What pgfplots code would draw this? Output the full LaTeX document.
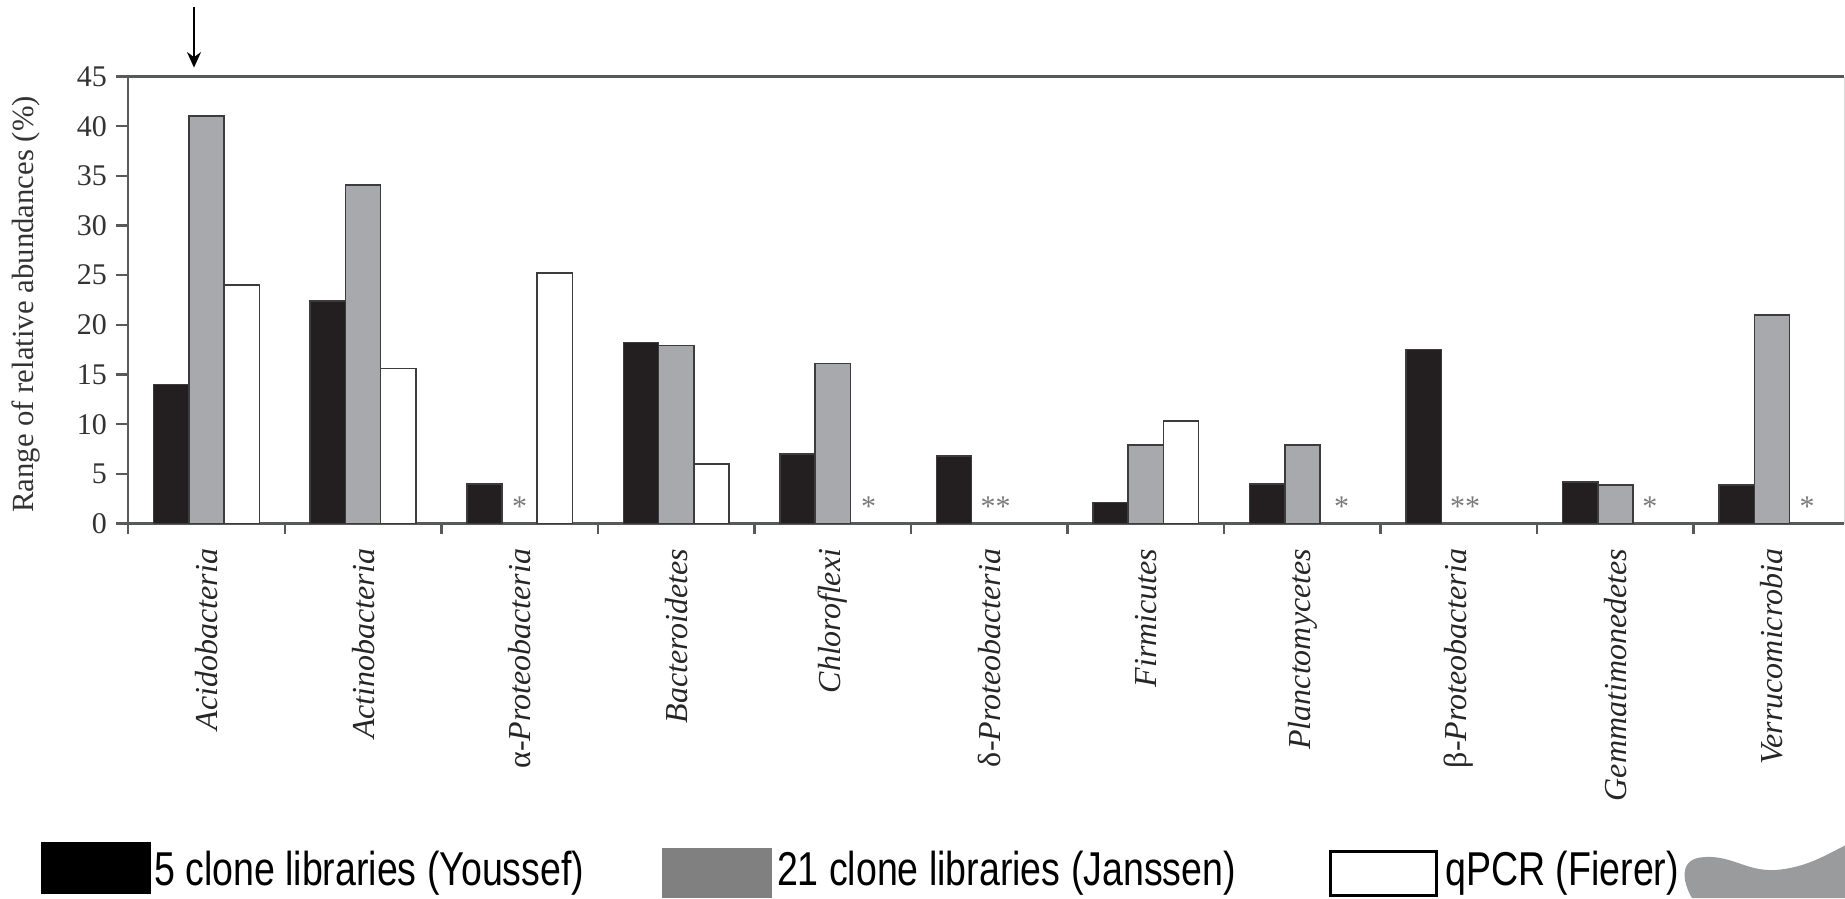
\documentclass[border=0pt]{standalone}
\usepackage{fontspec}
\setmainfont{Liberation Serif}
\newfontfamily\legfont[FakeStretch=0.79]{Liberation Sans}
\usepackage{pgfplots}
\pgfplotsset{compat=1.18}
\usetikzlibrary{arrows.meta}
\definecolor{barblack}{HTML}{231F20}
\definecolor{bargrey}{HTML}{A7A9AC}
\definecolor{edge}{HTML}{3C3C3C}
\definecolor{axisgrey}{HTML}{58595B}
\definecolor{leggrey}{HTML}{808080}
\definecolor{blob}{HTML}{9A9B9D}
\definecolor{stargrey}{HTML}{7A7A7A}
\tikzset{star/.style={text=stargrey, font=\fontsize{12}{12}\selectfont, inner sep=0pt, anchor=center}}
\begin{document}
\begin{tikzpicture}
\useasboundingbox (0,0) rectangle (738pt,359.2pt);
\begin{axis}[
  at={(51.3pt,149.8pt)}, anchor=south west,
  scale only axis, width=686.3pt, height=178.8pt,
  xmin=-0.5, xmax=10.46, ymin=0, ymax=45,
  clip=false,
  axis x line=bottom, axis y line=left,
  axis line style={-, draw=axisgrey, line width=1pt},
  tick align=outside,
  major tick length=5pt, minor tick length=4pt,
  tick style={draw=axisgrey, line width=1pt},
  ytick={0,5,...,45},
  xtick={0,...,10},
  minor xtick={-0.5,0.5,...,9.5},
  major x tick style={draw=none},
  xticklabels={Acidobacteria, Actinobacteria, {{\upshape α}-Proteobacteria}, Bacteroidetes, Chloroflexi, {{\upshape δ}-Proteobacteria}, Firmicutes, Planctomycetes, {{\upshape β}-Proteobacteria}, Gemmatimonedetes, Verrucomicrobia},
  xticklabel style={rotate=90, anchor=east, inner sep=0pt, font=\fontsize{12.8}{12.8}\selectfont\itshape, text=black!85},
  xticklabel shift=4.9pt,
  yticklabel style={font=\fontsize{12}{12}\selectfont, text=black!80},
  /pgf/number format/assume math mode=true,
  ylabel={Range of relative abundances (\%)},
  ylabel style={at={(axis description cs:-0.0596,0.49)}, anchor=center, font=\fontsize{12.3}{12.3}\selectfont, text=black!80},
]
\addplot[ybar, bar width=0.225, bar shift=-0.225, fill=barblack, draw=edge, line width=0.6pt]
  coordinates {(0,14) (1,22.4) (2,4) (3,18.2) (4,7) (5,6.8) (6,2.1) (7,4) (8,17.5) (9,4.2) (10,3.9)};
\addplot[ybar, bar width=0.225, bar shift=0, fill=bargrey, draw=edge, line width=0.6pt]
  coordinates {(0,41) (1,34.1) (3,17.9) (4,16.1) (6,7.9) (7,7.9) (9,3.9) (10,21)};
\addplot[ybar, bar width=0.225, bar shift=0.225, fill=white, draw=edge, line width=0.6pt]
  coordinates {(0,24) (1,15.6) (2,25.2) (3,6) (6,10.3)};
% top and right frame
\draw[axisgrey, line width=1pt] (rel axis cs:0,1) -- (rel axis cs:1,1);
\draw[black!15, line width=0.4pt] (rel axis cs:1,0) -- (rel axis cs:1,1);
% asterisks
\node[star] at (axis cs:2.0,1.7) {*};
\node[star] at (axis cs:4.23,1.7) {*};
\node[star] at (axis cs:5.04,1.7) {**};
\node[star] at (axis cs:7.25,1.7) {*};
\node[star] at (axis cs:8.04,1.7) {**};
\node[star] at (axis cs:9.22,1.7) {*};
\node[star] at (axis cs:10.225,1.7) {*};
% arrow
\draw[-{Stealth[length=6.2pt,width=5.6pt]}, line width=0.7pt] (axis cs:-0.08,52.0) -- (axis cs:-0.08,45.9);
\end{axis}
% legend
\fill[black] (16.4pt,1.6pt) rectangle (60.4pt,22.4pt);
\node[anchor=base west, inner sep=0pt, font=\legfont\fontsize{19}{19}\selectfont] at (61.4pt,5.0pt) {5 clone libraries (Youssef)};
\fill[leggrey] (264.8pt,0pt) rectangle (308.8pt,20.2pt);
\node[anchor=base west, inner sep=0pt, font=\legfont\fontsize{19}{19}\selectfont] at (310.6pt,5.0pt) {21 clone libraries (Janssen)};
\draw[black, line width=1.2pt, fill=white] (532.2pt,1.0pt) rectangle (574.6pt,18.6pt);
\node[anchor=base west, inner sep=0pt, font=\legfont\fontsize{19}{19}\selectfont] at (578pt,5.0pt) {qPCR (Fierer)};
% grey blob at lower right
\fill[blob] (676.8pt,0pt) .. controls (673.6pt,5.2pt) and (671pt,14.8pt) .. (680pt,16.2pt)
  .. controls (692pt,17.8pt) and (698pt,10.6pt) .. (710pt,11.2pt)
  .. controls (722pt,12pt) and (730pt,17pt) .. (738pt,21pt) -- (738pt,0pt) -- cycle;
\end{tikzpicture}
\end{document}
